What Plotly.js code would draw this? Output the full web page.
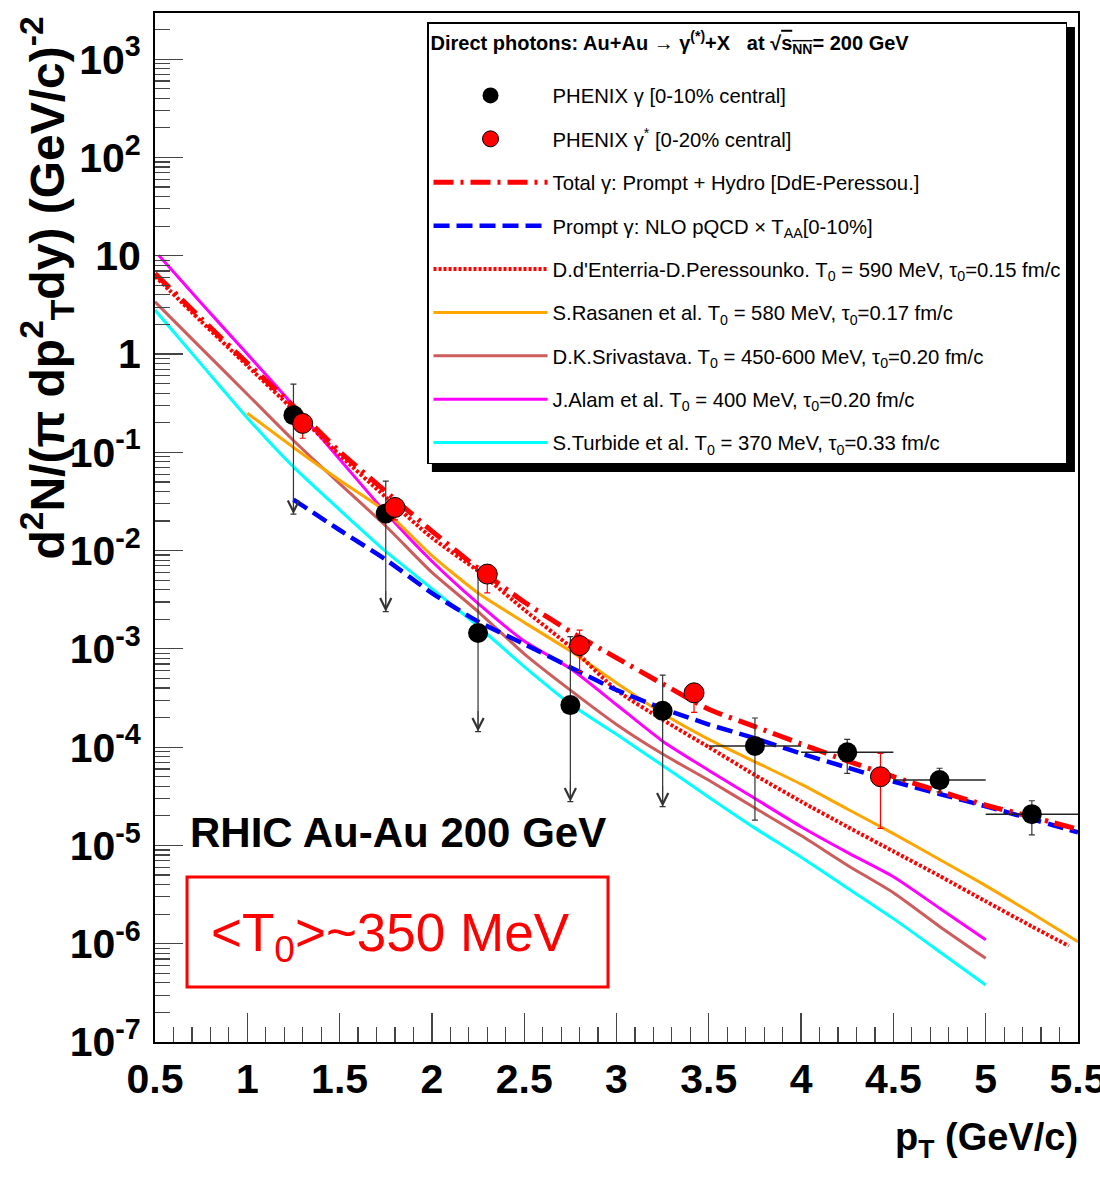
<!DOCTYPE html>
<html>
<head>
<meta charset="utf-8">
<script src="https://cdn.plot.ly/plotly-3.0.1.min.js"></script>
<style>
html,body{margin:0;padding:0;background:#ffffff;}
#chart{width:1100px;height:1181px;}
</style>
</head>
<body>
<div id="chart"></div>
<script>
// ---------- DATA ----------
// PHENIX gamma [0-10% central]
var blackX      = [1.25, 1.75, 2.25, 2.75, 3.25, 3.75, 4.25, 4.75, 5.25];
var blackY      = [0.239, 0.0239, 1.45e-3, 2.68e-4, 2.34e-4, 1.03e-4, 8.85e-5, 4.62e-5, 2.08e-5];
var blackHigh   = [0.494, 0.051, 6.3e-3, 1.33e-3, 5.4e-4, 1.98e-4, 1.2e-4, 6.1e-5, 2.85e-5];
var blackLow    = [0.0235, 2.39e-3, 1.44e-4, 2.79e-5, 2.48e-5, 1.81e-5, 5.4e-5, 3.5e-5, 1.28e-5];
var blackIsLimit= [1, 1, 1, 1, 1, 0, 0, 0, 0];
var blackXErr   = [0, 0, 0, 0, 0, 0.25, 0.25, 0.25, 0.25];

// PHENIX gamma* [0-20% central]
var redX    = [1.30, 1.80, 2.30, 2.80, 3.42, 4.43];
var redY    = [0.197, 0.0275, 5.77e-3, 1.08e-3, 3.57e-4, 5.0e-5];
var redHigh = [0.237, 0.0325, 6.77e-3, 1.55e-3, 4.17e-4, 8.65e-5];
var redLow  = [0.139, 0.0205, 3.72e-3, 5.86e-4, 2.26e-4, 1.49e-5];

// Total gamma: Prompt + Hydro [DdE-Peressou.]
var totalX = [0.5,0.75,1.0,1.25,1.5,1.75,2.0,2.25,2.5,2.75,3.0,3.25,3.5,3.75,4.0,4.25,4.5,4.75,5.0,5.25,5.5];
var totalY = [6.6,2.3,0.81,0.295,0.102,0.040,0.0158,6.6e-3,3.0e-3,1.5e-3,8.1e-4,4.4e-4,2.43e-4,1.62e-4,1.08e-4,7.25e-5,5.0e-5,3.56e-5,2.57e-5,1.95e-5,1.46e-5];

// Prompt gamma: NLO pQCD x T_AA
var promptX = [1.25,1.5,1.75,2.0,2.25,2.5,2.75,3.0,3.25,3.5,3.75,4.0,4.25,4.5,4.75,5.0,5.25,5.5];
var promptY = [0.0331,0.0162,8.1e-3,3.7e-3,1.9e-3,1.12e-3,6.5e-4,3.81e-4,2.48e-4,1.7e-4,1.23e-4,8.6e-5,6.2e-5,4.47e-5,3.34e-5,2.5e-5,1.85e-5,1.36e-5];

// D.d'Enterria - D.Peressounko
var dedX = [0.5,0.75,1.0,1.25,1.5,1.75,2.0,2.25,2.5,2.75,3.0,3.25,3.5,3.75,4.0,4.25,4.5,4.75,5.0,5.25,5.45];
var dedY = [6.2,2.15,0.76,0.27,0.094,0.035,0.0135,6.2e-3,2.5e-3,1.05e-3,3.8e-4,1.9e-4,1.0e-4,5.2e-5,2.8e-5,1.55e-5,8.7e-6,4.9e-6,2.7e-6,1.5e-6,9.5e-7];

// S.Rasanen et al.
var rasX = [1.0,1.25,1.5,1.75,2.0,2.25,2.5,2.75,3.0,3.25,3.5,3.75,4.0,4.25,4.5,4.75,5.0,5.25,5.5];
var rasY = [0.25,0.112,0.052,0.025,8.9e-3,3.7e-3,1.86e-3,9.5e-4,4.5e-4,2.2e-4,1.2e-4,7.1e-5,4.2e-5,2.35e-5,1.32e-5,7.2e-6,3.9e-6,2.04e-6,1.05e-6];

// D.K.Srivastava
var sriX = [0.5,0.75,1.0,1.25,1.5,1.75,2.0,2.25,2.5,2.75,3.0,3.25,3.5,3.75,4.0,4.25,4.5,4.75,5.0];
var sriY = [3.4,1.15,0.39,0.132,0.048,0.0178,6.0e-3,2.4e-3,8.9e-4,3.8e-4,1.7e-4,8.5e-5,4.6e-5,2.4e-5,1.26e-5,6.3e-6,3.3e-6,1.5e-6,7.1e-7];

// J.Alam et al.
var alamX = [0.52,0.75,1.0,1.25,1.5,1.75,2.0,2.25,2.5,2.75,3.0,3.25,3.5,3.75,4.0,4.25,4.5,4.75,5.0];
var alamY = [10.1,3.3,1.0,0.30,0.085,0.0243,7.8e-3,2.9e-3,1.2e-3,6.3e-4,2.7e-4,1.15e-4,5.8e-5,3.0e-5,1.55e-5,8.5e-6,4.8e-6,2.3e-6,1.1e-6];

// S.Turbide et al.
var turX = [0.5,0.75,1.0,1.25,1.5,1.75,2.0,2.25,2.5,2.75,3.0,3.25,3.5,3.75,4.0,4.25,4.5,4.75,5.0];
var turY = [2.8,0.79,0.224,0.071,0.026,9.8e-3,4.1e-3,1.7e-3,6.6e-4,2.75e-4,1.35e-4,6.5e-5,3.1e-5,1.5e-5,7.6e-6,3.7e-6,1.8e-6,8.3e-7,3.8e-7];

// Tick labels
var xTickVals = [0.5,1,1.5,2,2.5,3,3.5,4,4.5,5,5.5];
var xTickText = ["0.5","1","1.5","2","2.5","3","3.5","4","4.5","5","5.5"];
var yTickVals = [1e-7,1e-6,1e-5,1e-4,1e-3,1e-2,1e-1,1,10,100,1000];
var yTickText = ["10<sup>-7</sup>","10<sup>-6</sup>","10<sup>-5</sup>","10<sup>-4</sup>","10<sup>-3</sup>",
                 "10<sup>-2</sup>","10<sup>-1</sup>","1","10","10<sup>2</sup>","10<sup>3</sup>"];

// Legend labels
var names = {
  black: "PHENIX γ [0-10% central]",
  red: "PHENIX γ<sup>*</sup> [0-20% central]",
  total: "Total γ: Prompt + Hydro [DdE-Peressou.]",
  prompt: "Prompt γ: NLO pQCD × T<sub>AA</sub>[0-10%]",
  ded: "D.d'Enterria-D.Peressounko. T<sub>0</sub> = 590 MeV, τ<sub>0</sub>=0.15 fm/c",
  ras: "S.Rasanen et al. T<sub>0</sub> = 580 MeV, τ<sub>0</sub>=0.17 fm/c",
  sri: "D.K.Srivastava. T<sub>0</sub> = 450-600 MeV, τ<sub>0</sub>=0.20 fm/c",
  alam: "J.Alam et al. T<sub>0</sub> = 400 MeV, τ<sub>0</sub>=0.20 fm/c",
  tur: "S.Turbide et al. T<sub>0</sub> = 370 MeV, τ<sub>0</sub>=0.33 fm/c"
};
var legendTitle = "Direct photons: Au+Au → γ<sup>(*)</sup>+X   at √<span style=\"text-decoration:overline\">s<sub>NN</sub></span>= 200 GeV";

// ---------- BUILD ----------
var ARIAL  = '"Liberation Sans", Arial, sans-serif';

function line(name, x, y, color, dash, width, rank) {
  return {type:'scatter', mode:'lines', name:name, x:x, y:y,
          line:{color:color, dash:dash, width:width, shape:'spline', smoothing:0.6},
          legendrank:rank, legendgroup:'g'+rank, hoverinfo:'skip'};
}

var traces = [
  line(names.tur,  turX,  turY,  '#00ffff', 'solid', 3, 9),
  line(names.sri,  sriX,  sriY,  '#cd5c5c', 'solid', 3, 7),
  line(names.alam, alamX, alamY, '#ff00ff', 'solid', 3, 8),
  line(names.ras,  rasX,  rasY,  '#ffa500', 'solid', 3, 6),
  line(names.ded,  dedX,  dedY,  '#ff0000', '3px,2px', 4, 5),
  line(names.prompt, promptX, promptY, '#0000ff', '16px,7px', 4.5, 4),
  line(names.total, totalX, totalY, '#ff0000', '20px,7px,3px,7px', 5, 3)
];

traces.push({type:'scatter', mode:'markers', name:names.black, x:blackX, y:blackY,
  legendrank:1, legendgroup:'g1', hoverinfo:'skip',
  marker:{symbol:'circle', size:20, color:'#000000'},
  error_y:{type:'data', symmetric:false,
           array: blackY.map(function(v,i){return blackHigh[i]-v;}),
           arrayminus: blackY.map(function(v,i){return v-blackLow[i];}),
           color:'#333333', thickness:1.2, width:3},
  error_x:{type:'data', array:blackXErr, color:'#222222', thickness:1.5, width:0}});

traces.push({type:'scatter', mode:'markers', name:names.red, x:redX, y:redY,
  legendrank:2, legendgroup:'g2', hoverinfo:'skip',
  marker:{symbol:'circle', size:20, color:'#ff0000', line:{color:'#000000', width:1}},
  error_y:{type:'data', symmetric:false,
           array: redY.map(function(v,i){return redHigh[i]-v;}),
           arrayminus: redY.map(function(v,i){return v-redLow[i];}),
           color:'#ff0000', thickness:1.2, width:3}});

// upper-limit arrowheads at the low end of the limit error bars
var arrowAnns = [];
for (var i = 0; i < blackX.length; i++) {
  if (blackIsLimit[i]) {
    arrowAnns.push({x:blackX[i], y:Math.log10(blackLow[i]), xref:'x', yref:'y',
      text:'', showarrow:true, ax:0, ay:-22, arrowhead:5, arrowsize:2.2, arrowwidth:1,
      arrowcolor:'#333333', standoff:0});
  }
}

var minorY = [];
for (var k = -7; k <= 3; k++) {
  for (var m = 2; m <= 9; m++) {
    var v = m * Math.pow(10, k);
    if (Math.log10(v) < 3.47) minorY.push(v);
  }
}

var layout = {
  width:1100, height:1181,
  margin:{l:155, r:22, t:13, b:139, pad:0},
  paper_bgcolor:'#ffffff', plot_bgcolor:'#ffffff',
  showlegend:true,
  xaxis:{
    range:[0.5,5.5], showgrid:false, zeroline:false,
    showline:true, mirror:true, linecolor:'#000000', linewidth:2,
    ticks:'inside', ticklen:29, tickwidth:1.2, tickcolor:'#444444',
    tickmode:'array', tickvals:xTickVals, ticktext:xTickText,
    ticklabeloverflow:'allow',
    tickfont:{family:ARIAL, size:41, color:'#000000', weight:'bold'},
    minor:{ticks:'inside', ticklen:15, tickwidth:1.2, tickcolor:'#444444', dtick:0.1, tick0:0.5, showgrid:false}
  },
  yaxis:{
    type:'log', range:[-7, 3.47], showgrid:false, zeroline:false,
    showline:true, mirror:true, linecolor:'#000000', linewidth:2,
    ticks:'inside', ticklen:28, tickwidth:1.2, tickcolor:'#444444',
    tickmode:'array', tickvals:yTickVals, ticktext:yTickText,
    ticklabelstandoff:4, ticklabeloverflow:'allow',
    tickfont:{family:ARIAL, size:41, color:'#000000', weight:'bold'},
    minor:{ticks:'inside', ticklen:15, tickwidth:1.2, tickcolor:'#444444', tickmode:'array', tickvals:minorY, showgrid:false}
  },
  legend:{
    x:0.2947, y:0.991, xanchor:'left', yanchor:'top',
    bgcolor:'#ffffff', bordercolor:'#000000', borderwidth:1.5,
    font:{family:ARIAL, size:20.3, color:'#000000'},
    title:{text:legendTitle + '<br> ', font:{family:ARIAL, size:20, color:'#000000', weight:'bold'}},
    itemwidth:114, tracegroupgap:14, traceorder:'grouped'
  },
  shapes:[
    {type:'rect', xref:'paper', yref:'paper', x0:0.0347, x1:0.4908, y0:0.0535, y1:0.1603,
     line:{color:'#ff0000', width:3}, fillcolor:'rgba(0,0,0,0)'},
    {type:'rect', xref:'paper', yref:'paper', x0:0.300, x1:0.9967, y0:0.554, y1:0.9864,
     line:{width:0}, fillcolor:'#000000', layer:'above'}
  ],
  annotations:[
    {text:'d<sup>2</sup>N/(π dp<sup>2</sup><sub>T</sub>dy) (GeV/c)<sup>-2</sup>',
     xref:'paper', yref:'paper', x:-0.117, y:0.998, xanchor:'center', yanchor:'top',
     textangle:-90, showarrow:false,
     font:{family:ARIAL, size:48, color:'#000000', weight:'bold'}},
    {text:'p<sub>T</sub> (GeV/c)', xref:'paper', yref:'paper', x:1.002, y:-0.095,
     xanchor:'right', yanchor:'middle', showarrow:false,
     font:{family:ARIAL, size:38, color:'#000000', weight:'bold'}},
    {text:'RHIC Au-Au 200 GeV', xref:'paper', yref:'paper', x:0.036, y:0.204,
     xanchor:'left', yanchor:'middle', showarrow:false,
     font:{family:ARIAL, size:42, color:'#000000', weight:'bold'}},
    {text:'&lt;T<sub>0</sub>&gt;~350 MeV', xref:'paper', yref:'paper', x:0.058, y:0.103,
     xanchor:'left', yanchor:'middle', showarrow:false,
     font:{family:ARIAL, size:53, color:'#ff0000'}}
  ].concat(arrowAnns)
};

Plotly.newPlot('chart', traces, layout, {staticPlot:true, displayModeBar:false});
</script>
</body>
</html>
